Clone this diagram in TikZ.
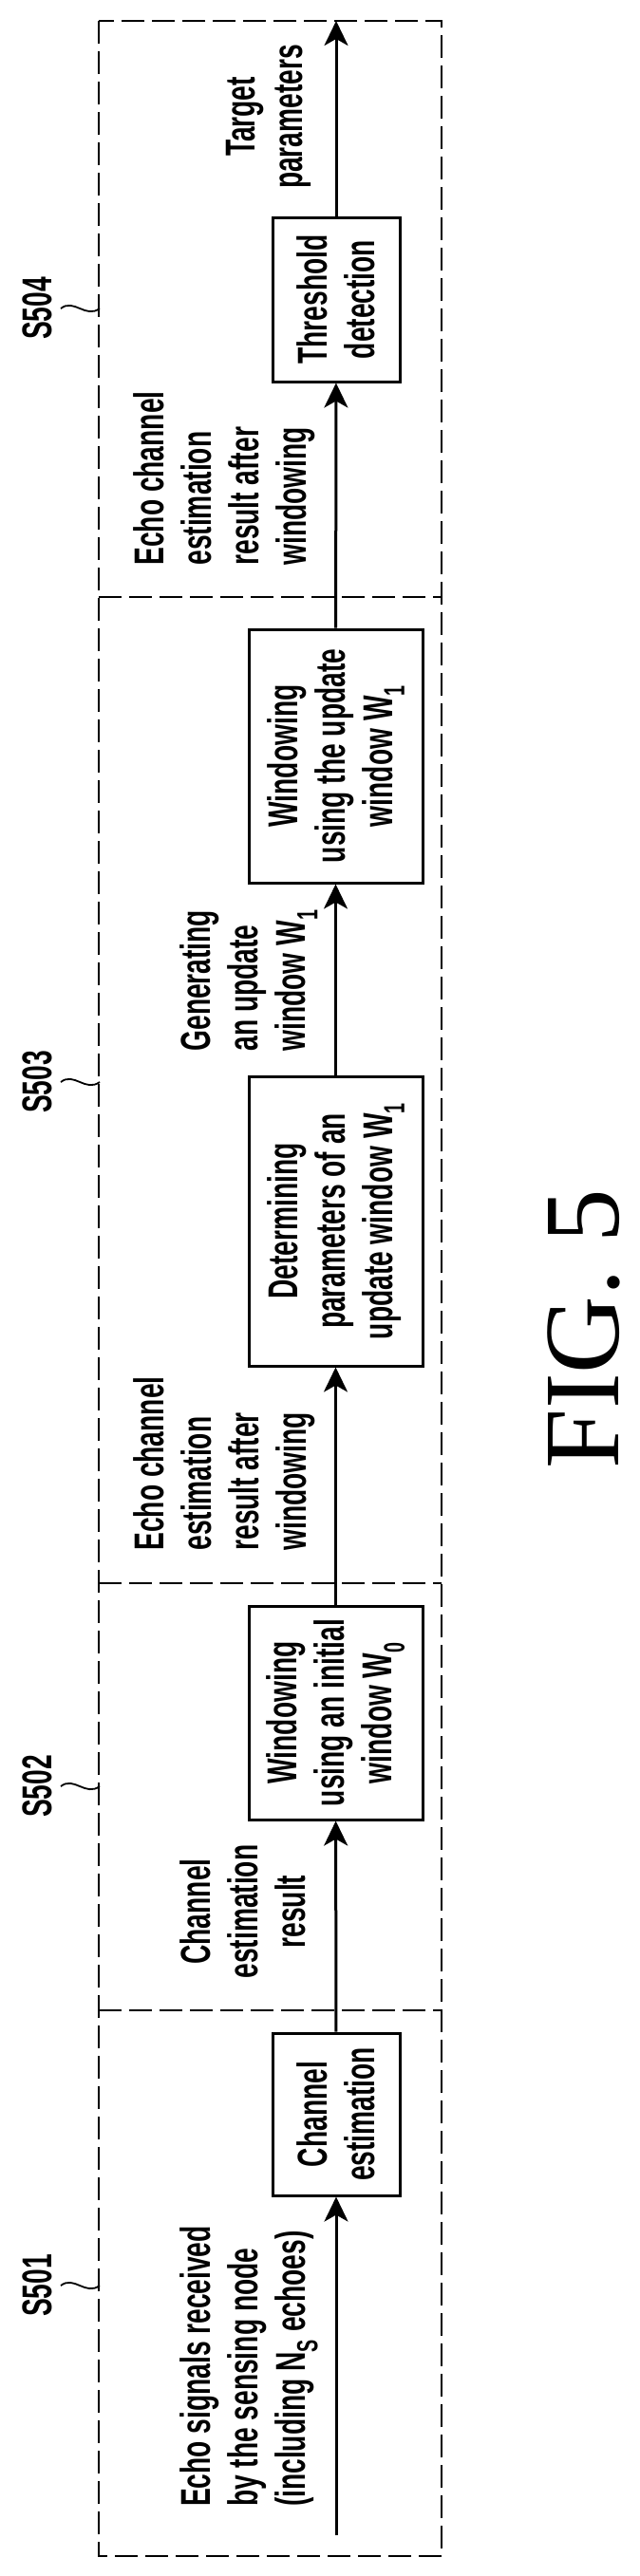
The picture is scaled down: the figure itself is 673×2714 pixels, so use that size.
\documentclass[tikz,border=0pt]{standalone}
\usepackage{fontspec}
\setmainfont{Liberation Sans}[FakeStretch=0.64]
\newfontfamily\figfont{Liberation Serif}
\usetikzlibrary{arrows.meta}
\begin{document}
\begin{tikzpicture}[x=1pt,y=-1pt,
  txt/.style={rotate=90,font=\fontsize{44}{50}\selectfont\bfseries,inner sep=0pt},
  blk/.style={draw,line width=3pt,rotate=90,font=\fontsize{44}{50}\selectfont\bfseries,align=center,inner sep=0pt},
  dsh/.style={line width=2pt,dash pattern=on 24pt off 8pt},
  arr/.style={line width=3pt,-{Stealth[length=26pt,width=25pt,inset=7pt]}},
  tld/.style={line width=1.8pt}]
\useasboundingbox (0,0) rectangle (673,2714);
% frame
\draw[dsh] (104,22) rectangle (465,2693);
\draw[dsh] (104,2118) -- (465,2118);
\draw[dsh] (104,1668) -- (465,1668);
\draw[dsh] (104,629) -- (465,629);
% step labels
\foreach \n/\yy in {S501/2408,S502/1882,S503/1140,S504/325}{
  \node[txt] (l\n) at (39,\yy) {\n};
  \draw[tld] (64,\yy) .. controls (78,\yy-11) and (90,\yy+11) .. (105,\yy);
}
% blocks
\node[blk,minimum width=171pt,minimum height=134pt] (ce) at (354,2227.5) {Channel\\estimation};
\node[blk,minimum width=225pt,minimum height=183pt] (w0) at (353.5,1804.5) {Windowing\\using an initial\\window W\textsubscript{0}};
\node[blk,minimum width=305pt,minimum height=183pt] (det) at (353.5,1286.5) {Determining\\parameters of an\\update window W\textsubscript{1}};
\node[blk,minimum width=267pt,minimum height=183pt] (w1) at (353.5,796.5) {Windowing\\using the update\\window W\textsubscript{1}};
\node[blk,minimum width=173pt,minimum height=134pt] (th) at (354,315.5) {Threshold\\detection};
\coordinate (in) at (354,2671);
\coordinate (out) at (354,22);
\draw[arr] (in) -- (ce);
\draw[arr] (ce) -- (w0);
\draw[arr] (w0) -- (det);
\draw[arr] (det) -- (w1);
\draw[arr] (w1) -- (th);
\draw[arr] (th) -- (out);
% labels
\node[txt,align=left] (t1) at (262,2493) {Echo signals received\\by the sensing node\\(including N\textsubscript{S} echoes)};
\node[txt,align=center] (t2) at (256,2014) {Channel\\estimation\\result};
\node[txt,align=left] (t3) at (236,1542) {Echo channel\\estimation\\result after\\windowing};
\node[txt,align=left] (t4) at (262,1033) {Generating\\an update\\window W\textsubscript{1}};
\node[txt,align=left] (t5) at (236,504) {Echo channel\\estimation\\result after\\windowing};
\node[txt,align=center] (t6) at (283,123) {Target\\parameters};
\node[rotate=90,inner sep=0pt,font=\figfont\fontsize{113}{113}\selectfont] (fig) at (615,1400) {FIG. 5};
\end{tikzpicture}
\end{document}
